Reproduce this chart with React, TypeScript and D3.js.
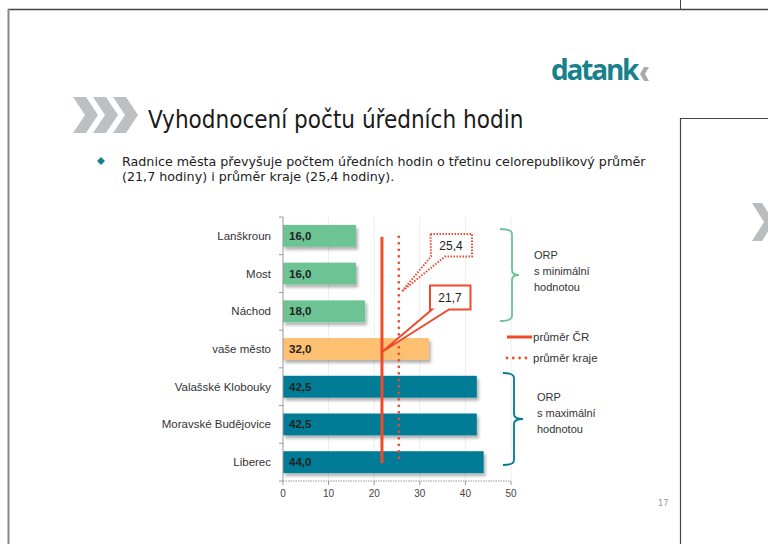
import React, { useEffect, useRef } from 'react';
import * as d3 from 'd3';

// data
const categories = ['Lanškroun', 'Most', 'Náchod', 'vaše město', 'Valašské Klobouky', 'Moravské Budějovice', 'Liberec'];
const hours = [16.0, 16.0, 18.0, 32.0, 42.5, 42.5, 44.0];
const groups = ['min', 'min', 'min', 'own', 'max', 'max', 'max'];
const avgCR = 21.7;
const avgKraj = 25.4;
const xTicks = [0, 10, 20, 30, 40, 50];
const minLabel = ['ORP', 's minimální', 'hodnotou'];
const maxLabel = ['ORP', 's maximální', 'hodnotou'];

const colors: Record<string, string> = { min: '#6cc494', own: '#fdbf6f', max: '#007b96' };
const red = '#ef4a2b';
const font = "'DejaVu Sans Condensed', 'DejaVu Sans', sans-serif";
const bodyFont = "'DejaVu Sans', sans-serif";
const chartFont = "'Liberation Sans', Arial, sans-serif";
const fmt = (v: number) => v.toFixed(1).replace('.', ',');

const App = () => {
  const ref = useRef<SVGSVGElement>(null);

  useEffect(() => {
    document.body.style.margin = '0';
    const svg = d3.select(ref.current);
    svg.selectAll('*').remove();

    // slide frames
    const frame = svg.append('g').attr('fill', 'none');
    frame.append('line').attr('x1', 8).attr('x2', 768).attr('y1', 9.5).attr('y2', 9.5).attr('stroke', '#444').attr('stroke-width', 1.5);
    frame.append('line').attr('x1', 8.5).attr('x2', 8.5).attr('y1', 9).attr('y2', 544).attr('stroke', '#888').attr('stroke-width', 2);
    frame.append('line').attr('x1', 680.5).attr('x2', 680.5).attr('y1', 0).attr('y2', 9).attr('stroke', '#444');
    frame.append('path').attr('d', 'M680.5,544 V118.5 H768').attr('stroke', '#444').attr('stroke-width', 1.2);
    // partial chevron of next slide
    svg.append('path').attr('d', 'M752,203 L762,203 L774,222 L762,241 L752,241 L764,222 Z').attr('fill', '#b9bdbf');

    // logo
    svg.append('text').attr('x', 551).attr('y', 80).text('datank')
      .style('font-family', "'Open Sans', sans-serif").style('font-weight', 'bold').style('font-size', '28px')
      .attr('fill', '#17828c').attr('letter-spacing', '-2.2');
    svg.append('path').attr('d', 'M644,67 L649,67 L645,74 L649,81 L644,81 L640,74 Z').attr('fill', '#aaa');

    // title chevrons
    const chev = svg.append('g').attr('fill', '#bcc0c2');
    [0, 20, 40].forEach(dx => {
      chev.append('path').attr('d', `M${73 + dx},97 L${86 + dx},97 L${98 + dx},115 L${86 + dx},133 L${73 + dx},133 L${85 + dx},115 Z`);
    });
    svg.append('text').attr('x', 148).attr('y', 128).text('Vyhodnocení počtu úředních hodin')
      .style('font-family', font).style('font-size', '24px').attr('fill', '#1a1a1a');

    // bullet
    svg.append('path').attr('d', 'M101,157 L105,161 L101,165 L97,161 Z').attr('fill', '#17828c');
    svg.append('text').attr('x', 122).attr('y', 166).text('Radnice města převyšuje počtem úředních hodin o třetinu celorepublikový průměr')
      .style('font-family', bodyFont).style('font-size', '12.7px').attr('fill', '#222');
    svg.append('text').attr('x', 122).attr('y', 181).text('(21,7 hodiny) i průměr kraje (25,4 hodiny).')
      .style('font-family', bodyFont).style('font-size', '12.7px').attr('fill', '#222');

    // page number
    svg.append('text').attr('x', 658).attr('y', 506).text('17')
      .style('font-family', font).style('font-size', '9px').attr('fill', '#999');

    // chart
    const x = d3.scaleLinear().domain([0, 50]).range([283, 511]);
    const y = d3.scaleBand<string>().domain(categories).range([217, 481]).paddingInner(0.42).paddingOuter(0.21);
    const bw = y.bandwidth();
    const step = y.step();

    const defs = svg.append('defs');
    const f = defs.append('filter').attr('id', 'shadow').attr('x', '-5%').attr('y', '-30%').attr('width', '120%').attr('height', '180%');
    f.append('feDropShadow').attr('dx', 2).attr('dy', 3).attr('stdDeviation', 1.8).attr('flood-color', '#000').attr('flood-opacity', 0.3);

    const chart = svg.append('g');

    // grid
    chart.selectAll('.grid').data(xTicks.slice(1)).enter().append('line')
      .attr('x1', d => x(d)).attr('x2', d => x(d)).attr('y1', 217).attr('y2', 481)
      .attr('stroke', '#ededed').attr('stroke-width', 1);

    // bars
    chart.selectAll('.bar').data(categories).enter().append('rect')
      .attr('x', x(0)).attr('y', d => y(d)!).attr('width', (d, i) => x(hours[i]) - x(0)).attr('height', bw)
      .attr('fill', (d, i) => colors[groups[i]]).attr('filter', 'url(#shadow)');

    chart.selectAll('.label').data(categories).enter().append('text')
      .attr('x', x(0) + 6).attr('y', d => y(d)! + bw / 2 + 4).text((d, i) => fmt(hours[i]))
      .style('font-family', chartFont).style('font-weight', 'bold').style('font-size', '11.5px').attr('fill', '#222');

    // category labels
    chart.selectAll('.cat').data(categories).enter().append('text')
      .attr('x', 271).attr('y', d => y(d)! + bw / 2 + 4).attr('text-anchor', 'end').text(d => d)
      .style('font-family', chartFont).style('font-size', '11.5px').attr('fill', '#333');

    // axes
    chart.append('line').attr('x1', 283).attr('x2', 283).attr('y1', 217).attr('y2', 481).attr('stroke', '#999');
    chart.selectAll('.ytick').data(d3.range(categories.length + 1)).enter().append('line')
      .attr('x1', 279).attr('x2', 283).attr('y1', d => 217 + d * step).attr('y2', d => 217 + d * step).attr('stroke', '#999');
    chart.append('line').attr('x1', 283).attr('x2', 511).attr('y1', 481).attr('y2', 481)
      .attr('stroke', '#999').attr('stroke-dasharray', '1.5 1');
    chart.selectAll('.xtick').data(xTicks).enter().append('line')
      .attr('x1', d => x(d)).attr('x2', d => x(d)).attr('y1', 481).attr('y2', 485).attr('stroke', '#999');
    chart.selectAll('.xlab').data(xTicks).enter().append('text')
      .attr('x', d => x(d)).attr('y', 497).attr('text-anchor', 'middle').text(d => d)
      .style('font-family', chartFont).style('font-size', '10px').attr('fill', '#444');

    // average lines
    const yTop = y(categories[0])! + bw / 2 + 1;
    const yBot = y(categories[categories.length - 1])! + bw / 2 + 1;
    chart.append('line').attr('x1', x(avgCR)).attr('x2', x(avgCR)).attr('y1', yTop).attr('y2', yBot)
      .attr('stroke', red).attr('stroke-width', 3);
    chart.append('line').attr('x1', x(avgKraj)).attr('x2', x(avgKraj)).attr('y1', yTop).attr('y2', yBot)
      .attr('stroke', red).attr('stroke-width', 2.8).attr('stroke-linecap', 'round').attr('stroke-dasharray', '0 6.5');

    // callouts
    const p1 = [x(avgCR), y('vaše město')! + bw / 2 + 3];
    chart.append('path')
      .attr('d', `M430,285.5 H470.5 V309.5 H449 L${p1[0]},${p1[1]} L432,309.5 H430 Z`)
      .attr('fill', '#fff').attr('stroke', red).attr('stroke-width', 2);
    chart.append('text').attr('x', 450).attr('y', 302).attr('text-anchor', 'middle').text(fmt(avgCR))
      .style('font-family', chartFont).style('font-size', '12px').attr('fill', '#222');

    const p2 = [x(avgKraj) + 3, y('Most')! + bw + 7];
    chart.append('path')
      .attr('d', `M430.5,234 H472 V256.5 H445 L${p2[0]},${p2[1]} L431,256.5 Z`)
      .attr('fill', '#fff').attr('stroke', red).attr('stroke-width', 2).attr('stroke-dasharray', '1.5 1.5');
    chart.append('text').attr('x', 451).attr('y', 250).attr('text-anchor', 'middle').text(fmt(avgKraj))
      .style('font-family', chartFont).style('font-size', '12px').attr('fill', '#222');

    // legend
    chart.append('line').attr('x1', 507).attr('x2', 532).attr('y1', 337).attr('y2', 337).attr('stroke', red).attr('stroke-width', 3);
    chart.append('text').attr('x', 533).attr('y', 341).text('průměr ČR')
      .style('font-family', chartFont).style('font-size', '11.5px').attr('fill', '#333');
    chart.append('line').attr('x1', 507).attr('x2', 532).attr('y1', 358).attr('y2', 358).attr('stroke', red)
      .attr('stroke-width', 2.8).attr('stroke-linecap', 'round').attr('stroke-dasharray', '0 6.3');
    chart.append('text').attr('x', 533).attr('y', 362).text('průměr kraje')
      .style('font-family', chartFont).style('font-size', '11.5px').attr('fill', '#333');

    // brackets
    const brace = (x0: number, xv: number, xn: number, top: number, bot: number, color: string) => {
      const mid = (top + bot) / 2;
      chart.append('path')
        .attr('d', `M${x0},${top} Q${xv},${top} ${xv},${top + 5} V${mid - 5} Q${xv},${mid} ${xn},${mid} Q${xv},${mid} ${xv},${mid + 5} V${bot - 5} Q${xv},${bot} ${x0},${bot}`)
        .attr('fill', 'none').attr('stroke', color).attr('stroke-width', 1.8);
    };
    brace(500, 512, 519, 229, 321, colors.min);
    brace(503, 514, 523, 373, 465, colors.max);

    chart.selectAll('.minlab').data(minLabel).enter().append('text')
      .attr('x', 534).attr('y', (d, i) => 259 + i * 16).text(d => d)
      .style('font-family', chartFont).style('font-size', '11px').attr('fill', '#333');
    chart.selectAll('.maxlab').data(maxLabel).enter().append('text')
      .attr('x', 537).attr('y', (d, i) => 401 + i * 16).text(d => d)
      .style('font-family', chartFont).style('font-size', '11px').attr('fill', '#333');
  }, []);

  return <svg ref={ref} width={768} height={544} style={{ display: 'block', background: '#fff' }} />;
};

export default App;
